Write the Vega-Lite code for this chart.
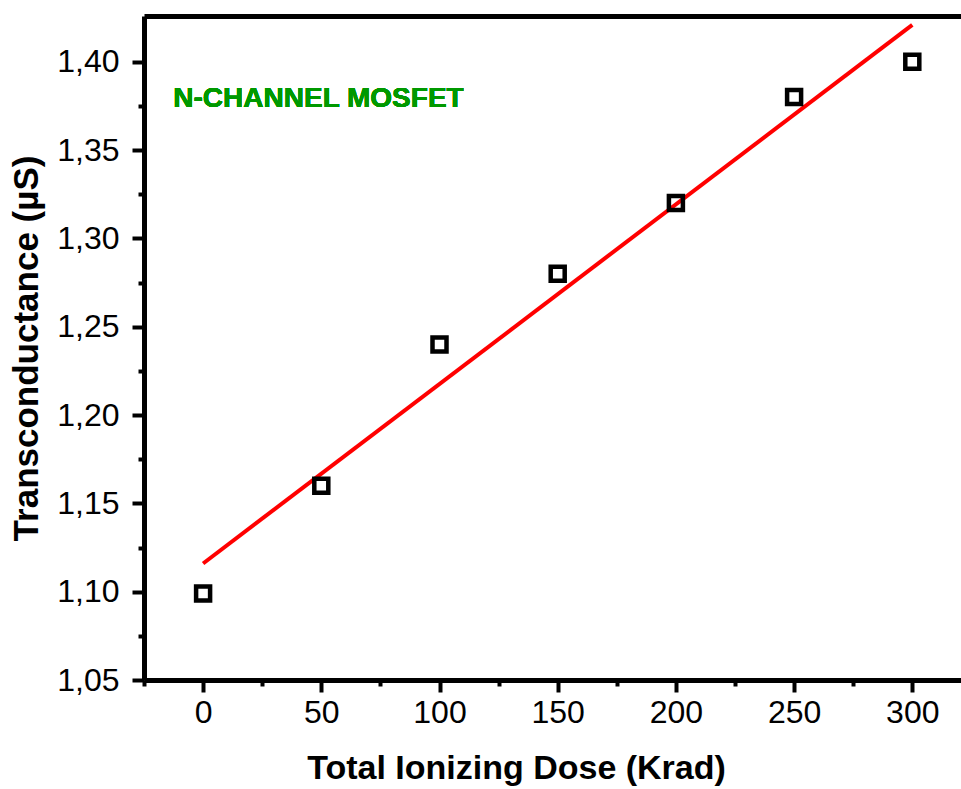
{
  "$schema": "https://vega.github.io/schema/vega-lite/v6.json",
  "width": 817,
  "height": 664,
  "autosize": {"type": "none"},
  "padding": {"left": 144, "top": 16, "right": 0, "bottom": 109},
  "background": "white",
  "config": {
    "view": {"stroke": null},
    "axis": {
      "labelFont": "Liberation Sans",
      "titleFont": "Liberation Sans",
      "labelColor": "black",
      "titleColor": "black",
      "domainColor": "black",
      "tickColor": "black",
      "grid": false
    }
  },
  "data": {
    "values": [
      {"dose": 0, "tgm": 1.099},
      {"dose": 50, "tgm": 1.16},
      {"dose": 100, "tgm": 1.24},
      {"dose": 150, "tgm": 1.28},
      {"dose": 200, "tgm": 1.32},
      {"dose": 250, "tgm": 1.38},
      {"dose": 300, "tgm": 1.40}
    ]
  },
  "layer": [
    {
      "transform": [{"regression": "tgm", "on": "dose"}],
      "mark": {"type": "line", "color": "#ff0000", "strokeWidth": 4},
      "encoding": {
        "x": {
          "field": "dose", "type": "quantitative",
          "scale": {"domain": [-25, 320.6], "nice": false, "zero": false},
          "axis": {"orient": "bottom", "values": [-25, 25, 75, 125, 175, 225, 275], "labels": false, "domain": false, "tickSize": 6, "tickWidth": 4, "title": null}
        },
        "y": {
          "field": "tgm", "type": "quantitative",
          "scale": {"domain": [1.05, 1.4259], "nice": false, "zero": false},
          "axis": {"orient": "left", "values": [1.075, 1.125, 1.175, 1.225, 1.275, 1.325, 1.375], "labels": false, "domain": false, "tickSize": 6, "tickWidth": 4, "title": null}
        }
      }
    },
    {
      "mark": {"type": "point", "shape": "square", "filled": false, "stroke": "black", "strokeWidth": 4.5, "size": 196, "opacity": 1},
      "encoding": {
        "x": {
          "field": "dose", "type": "quantitative",
          "axis": {"orient": "bottom", "values": [0, 50, 100, 150, 200, 250, 300], "tickSize": 12, "tickWidth": 4, "domainWidth": 5, "labelFontSize": 32, "labelPadding": 5, "title": "Total Ionizing Dose (Krad)", "titleFontSize": 34, "titleFontWeight": "bold", "titlePadding": 23, "titleX": 372, "titleAlign": "center", "titleAnchor": null}
        },
        "y": {
          "field": "tgm", "type": "quantitative",
          "axis": {"orient": "left", "values": [1.05, 1.1, 1.15, 1.2, 1.25, 1.3, 1.35, 1.4], "tickSize": 12, "tickWidth": 4, "domainWidth": 5, "labelFontSize": 32, "labelPadding": 13, "labelExpr": "replace(format(datum.value, '.2f'), '.', ',')", "title": "Transconductance (µS)", "titleFontSize": 35, "titleFontWeight": "bold", "titlePadding": 12}
        }
      }
    },
    {
      "mark": {"type": "text", "text": "N-CHANNEL MOSFET", "font": "Liberation Sans", "fontWeight": "bold", "fontSize": 28, "color": "#009900", "align": "left", "baseline": "alphabetic"},
      "encoding": {
        "x": {"datum": -12.6, "type": "quantitative", "axis": {"orient": "top", "values": [], "ticks": false, "labels": false, "domain": true, "domainWidth": 5, "title": null}},
        "y": {"datum": 1.3743, "type": "quantitative", "axis": null}
      }
    }
  ],
  "resolve": {"axis": {"x": "independent", "y": "independent"}}
}
